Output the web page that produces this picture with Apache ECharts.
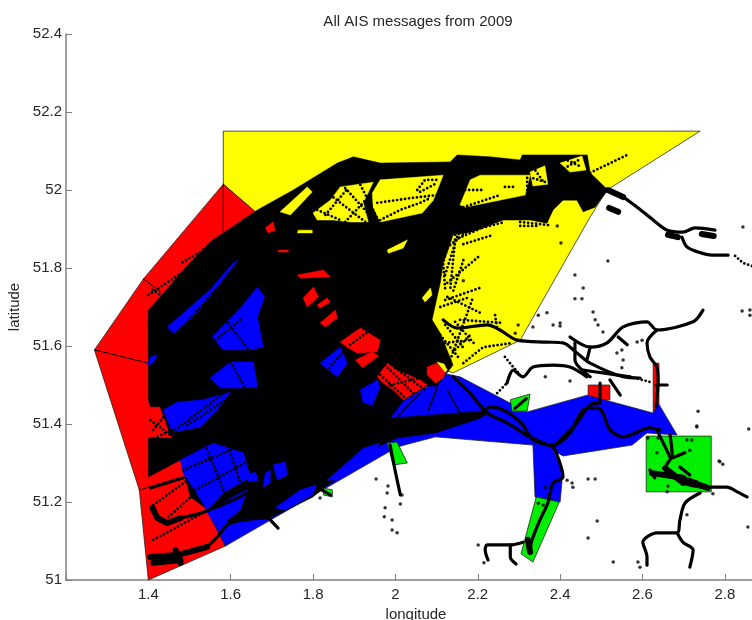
<!DOCTYPE html>
<html><head><meta charset="utf-8">
<style>html,body{margin:0;padding:0;background:#fff;overflow:hidden}#c{width:752px;height:620px;filter:blur(.4px)}</style>
<script src="https://cdn.jsdelivr.net/npm/echarts@6/dist/echarts.min.js"></script>
</head><body><div id="c"></div>
<script>
const yellowZones=[[[1.582,52.151],[2.74,52.151],[2.514,52.0],[2.473,51.931],[2.303,51.615],[2.14,51.531],[2.084,51.556],[1.582,52.015]]];
const redZones=[
[[1.582,52.015],[1.388,51.772],[1.269,51.59],[1.378,51.231],[1.4,51.0],[1.587,51.087],[1.987,51.41],[2.101,51.533],[1.66,51.944]],
[[2.468,51.5],[2.521,51.5],[2.521,51.462],[2.468,51.462]],
[[2.626,51.556],[2.64,51.556],[2.64,51.431],[2.626,51.431]]];
const blueZones=[[[1.4,51.59],[1.429,51.444],[1.458,51.367],[1.478,51.308],[1.587,51.087],[1.98,51.326],[2.004,51.341],[2.097,51.367],[2.334,51.346],[2.339,51.213],[2.4,51.2],[2.407,51.282],[2.383,51.333],[2.407,51.318],[2.575,51.346],[2.611,51.377],[2.684,51.372],[2.638,51.454],[2.626,51.428],[2.466,51.474],[2.32,51.431],[2.157,51.521],[2.101,51.533],[2.077,51.495],[2.019,51.462],[1.97,51.505],[1.915,51.513],[1.866,51.603],[1.769,51.641],[1.696,51.769],[1.623,51.846],[1.502,51.808],[1.4,51.667]]];
const greenZones=[
[[2.609,51.369],[2.767,51.369],[2.767,51.226],[2.609,51.226]],
[[2.342,51.213],[2.398,51.2],[2.334,51.046],[2.305,51.067]],
[[2.279,51.462],[2.327,51.477],[2.32,51.433],[2.283,51.433]],
[[1.98,51.351],[2.004,51.354],[2.029,51.3],[1.995,51.295]],
[[1.825,51.236],[1.847,51.231],[1.847,51.213],[1.825,51.218]]];
const zoneEdges=[
[[1.269,51.59],[1.4,51.556]],
[[1.388,51.772],[1.431,51.738]],
[[1.582,52.015],[1.582,51.892]],
[[1.378,51.231],[1.478,51.262]]];
const denseTraffic=[[1.4,51.692],[1.429,51.726],[1.485,51.795],[1.55,51.867],[1.665,51.949],[1.752,52.0],[1.859,52.069],[1.898,52.085],[1.963,52.069],[2.133,52.072],[2.15,52.09],[2.23,52.085],[2.303,52.077],[2.308,52.09],[2.466,52.09],[2.473,52.044],[2.516,52.0],[2.497,51.974],[2.485,51.956],[2.456,51.944],[2.441,51.974],[2.407,51.974],[2.383,51.949],[2.368,51.915],[2.327,51.923],[2.262,51.923],[2.182,51.892],[2.14,51.885],[2.128,51.846],[2.116,51.813],[2.109,51.762],[2.089,51.667],[2.109,51.633],[2.14,51.551],[2.101,51.497],[2.077,51.497],[2.019,51.459],[1.987,51.415],[2.206,51.433],[2.23,51.431],[2.206,51.415],[2.097,51.377],[2.004,51.364],[1.939,51.333],[1.866,51.262],[1.825,51.236],[1.8,51.213],[1.703,51.162],[1.635,51.159],[1.594,51.149],[1.563,51.154],[1.538,51.185],[1.502,51.213],[1.478,51.308],[1.4,51.264],[1.4,51.364],[1.458,51.364],[1.446,51.392],[1.429,51.444],[1.405,51.444],[1.4,51.462]];
const blueGaps=[
[[1.446,51.649],[1.55,51.744],[1.606,51.813],[1.618,51.821],[1.567,51.751],[1.509,51.674],[1.461,51.633]],
[[1.555,51.623],[1.623,51.697],[1.665,51.751],[1.682,51.726],[1.665,51.674],[1.679,51.597],[1.64,51.59],[1.582,51.59]],
[[1.55,51.518],[1.599,51.559],[1.655,51.559],[1.665,51.495],[1.623,51.492],[1.575,51.492]],
[[1.398,51.551],[1.405,51.572],[1.422,51.577],[1.412,51.556]],
[[1.436,51.436],[1.47,51.456],[1.533,51.462],[1.599,51.482],[1.567,51.436],[1.526,51.392],[1.458,51.379],[1.449,51.403]],
[[1.478,51.308],[1.558,51.351],[1.631,51.326],[1.648,51.264],[1.582,51.223],[1.543,51.179],[1.509,51.236],[1.485,51.274]],
[[1.543,51.174],[1.606,51.213],[1.64,51.231],[1.623,51.179],[1.567,51.133]],
[[1.684,51.274],[1.696,51.282],[1.696,51.249],[1.679,51.238]],
[[1.817,51.556],[1.866,51.597],[1.883,51.556],[1.859,51.521]],
[[1.915,51.487],[1.956,51.513],[1.963,51.495],[1.944,51.449],[1.922,51.454]],
[[1.834,51.256],[1.922,51.338],[1.963,51.351],[1.946,51.326],[1.859,51.256]],
[[1.708,51.185],[1.769,51.231],[1.81,51.244],[1.798,51.218],[1.733,51.179]],
[[1.64,51.269],[1.66,51.277],[1.667,51.256],[1.643,51.251]],
[[1.703,51.295],[1.733,51.303],[1.737,51.269],[1.713,51.256]]];
const redGaps=[
[[1.762,51.782],[1.825,51.795],[1.842,51.777],[1.769,51.774]],
[[1.776,51.723],[1.801,51.751],[1.813,51.726],[1.786,51.7]],
[[1.81,51.705],[1.834,51.723],[1.842,51.713],[1.817,51.697]],
[[1.817,51.659],[1.854,51.692],[1.859,51.672],[1.83,51.649]],
[[1.866,51.61],[1.915,51.646],[1.963,51.615],[1.956,51.585],[1.907,51.582],[1.883,51.597]],
[[1.956,51.521],[1.98,51.556],[2.004,51.538],[2.06,51.513],[2.077,51.5],[2.019,51.462],[1.995,51.487],[1.97,51.505]],
[[1.684,51.903],[1.703,51.918],[1.708,51.897],[1.691,51.89]],
[[1.716,51.846],[1.74,51.846],[1.74,51.841],[1.716,51.841]],
[[2.077,51.546],[2.101,51.556],[2.121,51.533],[2.116,51.518],[2.097,51.505],[2.077,51.526]],
[[1.903,51.564],[1.944,51.585],[1.959,51.574],[1.92,51.544]]];
const yellowGaps=[
[[1.72,51.944],[1.786,52.008],[1.798,51.995],[1.745,51.936]],
[[1.944,51.992],[1.963,52.026],[2.116,52.038],[2.092,51.974],[2.065,51.941],[1.963,51.918],[1.946,51.956]],
[[1.8,51.941],[1.842,51.974],[1.866,52.008],[1.946,52.02],[1.922,51.967],[1.934,51.918],[1.89,51.918],[1.849,51.923],[1.81,51.923]],
[[2.182,52.026],[2.206,52.038],[2.327,52.038],[2.315,51.987],[2.169,51.956],[2.157,51.962]],
[[1.764,51.897],[1.798,51.897],[1.798,51.89],[1.762,51.89]],
[[1.98,51.846],[2.029,51.872],[2.019,51.851],[1.983,51.838]],
[[2.065,51.723],[2.085,51.749],[2.089,51.731],[2.072,51.713]],
[[2.101,51.559],[2.118,51.554],[2.126,51.538],[2.121,51.533]],
[[2.4,52.069],[2.453,52.087],[2.463,52.051],[2.424,52.046]],
[[2.327,52.046],[2.363,52.062],[2.37,52.015],[2.334,52.01]]];
const riverTracks=[
[[2.516,52.0],[2.553,51.982],[2.587,51.956],[2.626,51.923],[2.66,51.897],[2.698,51.892],[2.728,51.903],[2.776,51.897]],
[[2.696,51.879],[2.708,51.854],[2.735,51.841],[2.769,51.833],[2.808,51.833]],
[[2.116,51.667],[2.15,51.646],[2.223,51.654],[2.254,51.641],[2.296,51.615],[2.368,51.61],[2.407,51.608],[2.441,51.582],[2.473,51.556],[2.553,51.521],[2.594,51.518]],
[[2.424,51.623],[2.473,51.597],[2.514,51.608],[2.553,51.649],[2.611,51.662],[2.635,51.641],[2.723,51.662],[2.747,51.692]],
[[2.635,51.641],[2.611,51.608],[2.618,51.572],[2.635,51.546],[2.638,51.513],[2.633,51.444]],
[[2.271,51.505],[2.286,51.538],[2.31,51.521],[2.334,51.546],[2.383,51.551],[2.424,51.546],[2.465,51.521]],
[[2.436,51.608],[2.436,51.564],[2.473,51.521]],
[[2.473,51.597],[2.465,51.564]],
[[2.541,51.623],[2.563,51.603]],
[[2.456,51.538],[2.504,51.531],[2.57,51.521]],
[[2.521,51.513],[2.546,51.474]],
[[2.497,51.505],[2.497,51.454]],
[[2.633,51.5],[2.66,51.5]],
[[1.987,51.41],[2.092,51.415],[2.206,51.428],[2.23,51.444],[2.271,51.431],[2.31,51.397],[2.334,51.359],[2.383,51.346],[2.424,51.377],[2.456,51.436],[2.49,51.441],[2.504,51.428],[2.521,51.385],[2.553,51.367],[2.618,51.39],[2.642,51.385]],
[[2.14,51.521],[2.181,51.479],[2.223,51.428],[2.271,51.403],[2.327,51.367],[2.383,51.341]],
[[2.383,51.341],[2.436,51.397],[2.473,51.449],[2.497,51.454]],
[[2.383,51.346],[2.407,51.264],[2.383,51.249],[2.37,51.197],[2.351,51.154],[2.332,51.103],[2.327,51.077]],
[[2.31,51.097],[2.279,51.09],[2.223,51.09],[2.218,51.077],[2.225,51.051]],
[[2.279,51.09],[2.279,51.059],[2.293,51.041]],
[[2.667,51.372],[2.672,51.321],[2.655,51.287],[2.699,51.249],[2.757,51.236]],
[[2.672,51.313],[2.703,51.326]],
[[2.623,51.274],[2.655,51.269],[2.699,51.262],[2.733,51.251]],
[[2.618,51.282],[2.63,51.262]],
[[2.691,51.29],[2.715,51.269]],
[[2.635,51.385],[2.667,51.315]],
[[2.764,51.238],[2.805,51.238],[2.83,51.226],[2.854,51.213]],
[[2.74,51.223],[2.703,51.197],[2.691,51.154],[2.684,51.121],[2.635,51.121],[2.601,51.097],[2.611,51.059],[2.611,51.038]],
[[2.684,51.121],[2.698,51.097],[2.723,51.077],[2.715,51.033]],
[[1.478,51.159],[1.533,51.174],[1.616,51.21],[1.672,51.244]],
[[1.543,51.085],[1.567,51.11],[1.599,51.146],[1.689,51.159]],
[[1.689,51.162],[1.715,51.133]],
[[1.81,51.238],[1.842,51.218]],
[[1.987,51.346],[1.999,51.282],[2.012,51.218]],
[[1.405,51.236],[1.485,51.262]],
[[2.29,51.44],[2.318,51.465]]];
const heavyTracks=[
[[1.41,51.185],[1.422,51.159],[1.446,51.146],[1.478,51.159]],
[[1.405,51.059],[1.47,51.064],[1.543,51.085]],
[[1.412,51.044],[1.478,51.051]],
[[1.466,51.077],[1.478,51.044]],
[[2.322,51.103],[2.327,51.072]],
[[2.703,51.256],[2.759,51.236]],
[[2.655,51.287],[2.699,51.249]],
[[2.623,51.274],[2.699,51.262]],
[[2.516,52.0],[2.553,51.982]],
[[2.519,51.954],[2.541,51.944]],
[[2.662,51.885],[2.686,51.879]],
[[2.744,51.887],[2.773,51.882]]];
const thinTracks=[
[[2.004,51.418],[2.06,51.479]],
[[2.08,51.436],[2.101,51.492]],
[[2.126,51.487],[2.157,51.428]]];
const dottedTracks=[
[[1.83,51.936],[1.885,52.005]],[[1.878,51.918],[1.939,51.987]],[[1.842,51.987],[1.927,51.918]],[[1.878,52.005],[1.944,51.928]],[[1.915,52.013],[1.958,51.923]],[[1.81,51.949],[1.866,51.923]],
[[1.956,51.967],[2.036,51.979],[2.101,51.987]],[[1.963,51.923],[2.012,51.949],[2.06,51.967],[2.084,51.979]],[[2.053,52.0],[2.072,52.026],[2.101,52.026]],[[2.06,51.995],[2.101,52.018]],
[[2.126,51.762],[2.201,51.828]],[[2.473,52.044],[2.563,52.09]],[[2.121,51.718],[2.211,51.751]],[[2.126,51.726],[2.206,51.685]],[[2.109,51.7],[2.182,51.726]],[[2.157,51.667],[2.262,51.659]],[[2.242,51.679],[2.247,51.646]],[[2.133,51.564],[2.189,51.726]],[[2.165,51.556],[2.213,51.597],[2.286,51.608]],[[2.133,51.879],[2.116,51.813],[2.121,51.744]],[[2.145,51.872],[2.133,51.744]],[[2.121,51.608],[2.182,51.615]],[[2.145,51.59],[2.182,51.628]],[[2.165,51.956],[2.254,51.987]],[[2.15,52.0],[2.218,52.0]],[[2.266,52.008],[2.291,52.008]],[[2.32,52.031],[2.32,52.0]],[[2.121,51.654],[2.169,51.59]],[[2.145,51.662],[2.194,51.603]],[[2.109,51.628],[2.152,51.572]],[[2.145,51.885],[2.266,51.918]],[[2.303,51.918],[2.371,51.91]],[[2.133,51.859],[2.194,51.91]],
[[2.145,51.872],[2.262,51.928]],[[2.165,51.861],[2.238,51.885]],[[2.303,51.908],[2.35,51.908]],[[2.15,51.88],[2.12,51.78]],[[2.165,51.82],[2.14,51.74]],
[[2.335,52.03],[2.365,52.02]],[[2.34,52.05],[2.36,52.02]],[[2.41,52.08],[2.45,52.06]],[[2.41,52.055],[2.45,52.08]],
[[1.485,51.282],[1.64,51.351]],[[1.514,51.231],[1.648,51.308]],[[1.538,51.346],[1.587,51.218]],[[1.594,51.341],[1.623,51.251]],[[1.458,51.379],[1.587,51.482]],[[1.495,51.397],[1.623,51.487]],[[1.587,51.667],[1.648,51.585]],[[1.623,51.667],[1.558,51.61]],[[1.599,51.559],[1.635,51.492]],[[1.466,51.628],[1.563,51.744]],[[1.878,51.59],[1.83,51.533]],
[[1.412,51.385],[1.441,51.423]],[[1.405,51.41],[1.453,51.372]],[[1.405,51.359],[1.458,51.385]],[[1.975,51.551],[2.048,51.474]],[[1.999,51.544],[2.072,51.487]],[[1.963,51.526],[2.024,51.467]],[[1.987,51.5],[2.06,51.518]],[[1.89,51.603],[1.939,51.641]],
[[1.412,51.192],[1.495,51.256]],[[1.449,51.162],[1.514,51.223]],[[1.412,51.103],[1.533,51.172]],[[1.4,51.731],[1.485,51.79]],[[1.41,51.744],[1.441,51.723]],[[1.483,51.815],[1.546,51.854]],[[1.49,51.795],[1.538,51.846]],
[[2.825,51.831],[2.844,51.813],[2.866,51.805]],[[2.247,51.479],[2.271,51.505]],[[2.266,51.572],[2.286,51.546],[2.303,51.526]],[[2.57,51.521],[2.618,51.508]]];
const strayPoints=[[2.844,51.905],[2.516,51.818],[2.436,51.782],[2.456,51.749],[2.436,51.721],[2.453,51.721],[2.48,51.687],[2.485,51.667],[2.492,51.654],[2.504,51.636],[2.383,51.654],[2.4,51.659],[2.4,51.651],[2.402,51.864],[2.393,51.908],[2.538,51.582],[2.55,51.59],[2.553,51.564],[2.55,51.544],[2.587,51.61],[2.599,51.615],[2.364,51.521],[2.424,51.51],[2.842,51.69],[2.861,51.692],[2.861,51.679],[2.735,51.433],[2.732,51.395],[2.858,51.387],[2.788,51.303],[2.795,51.297],[2.856,51.136],[2.708,51.167],[2.771,51.221],[2.66,51.226],[2.49,51.151],[2.468,51.108],[2.529,51.046],[2.468,51.259],[2.485,51.259],[2.417,51.256],[2.429,51.249],[2.431,51.238],[2.364,51.238],[2.347,51.197],[2.359,51.192],[2.016,51.218],[2.012,51.195],[1.992,51.154],[1.992,51.128],[2.004,51.121],[1.953,51.259],[1.982,51.241],[1.98,51.223],[1.975,51.185],[1.973,51.162],[1.817,51.21],[2.613,51.364],[2.638,51.364],[2.635,51.326],[2.708,51.359],[2.72,51.359],[2.715,51.333],[2.662,51.241],[2.732,51.392],[2.786,51.305],[2.201,51.09],[2.215,51.044],[2.589,51.046],[2.594,51.033],[2.165,51.767],[2.298,51.654],[2.291,51.633],[2.334,51.649],[2.347,51.679],[2.368,51.685]];

const latTicks=[51,51.2,51.4,51.6,51.8,52,52.2,52.4];
const lonTicks=[1.4,1.6,1.8,2,2.2,2.4,2.6,2.8];

function zones(name,rings,fill,edge){
  return {type:'custom',name,silent:true,animation:false,clip:false,
    data:rings.map(r=>r[0]),
    encode:{x:0,y:1},
    renderItem:(p,api)=>({type:'polygon',
      shape:{points:rings[p.dataIndex].map(q=>api.coord(q))},
      style:{fill,stroke:edge||fill,lineWidth:edge?1:0.5}})};
}
function tracks(list,width,dash,smooth){
  return list.map(d=>({type:'line',data:d,showSymbol:false,silent:true,animation:false,clip:false,smooth:smooth||false,
    lineStyle:{color:'#000',width,cap:'round',join:'round',type:dash||'solid'}}));
}
const edge='rgba(30,30,30,.75)';
const option={
  animation:false,backgroundColor:'#fff',
  title:{text:'All AIS messages from 2009',left:413,top:9,textAlign:'center',
    textStyle:{fontFamily:'Liberation Sans',fontSize:15,fontWeight:'normal',color:'#262626'}},
  grid:{left:66,top:34,width:700,height:546,outerBoundsMode:'none'},
  xAxis:{type:'value',min:1.2,max:2.9,interval:0.2,name:'longitude',nameLocation:'middle',nameGap:25,
    nameTextStyle:{fontFamily:'Liberation Sans',fontSize:15,color:'#262626'},
    axisLine:{show:true,onZero:false,lineStyle:{color:'#808080',width:1.5}},
    axisTick:{inside:true,length:6,lineStyle:{color:'#808080',width:1}},
    axisLabel:{fontFamily:'Liberation Sans',fontSize:15,color:'#262626',margin:7,
      formatter:v=>{const m=lonTicks.find(t=>Math.abs(t-v)<1e-6);return m===undefined?'':String(m);}},
    splitLine:{show:false}},
  yAxis:{type:'value',min:51,max:52.4,interval:0.2,name:'latitude',nameLocation:'middle',nameGap:41,
    nameTextStyle:{fontFamily:'Liberation Sans',fontSize:15,color:'#262626'},
    axisLine:{show:true,onZero:false,lineStyle:{color:'#808080',width:1.5}},
    axisTick:{inside:true,length:6,lineStyle:{color:'#808080',width:1}},
    axisLabel:{fontFamily:'Liberation Sans',fontSize:15,color:'#262626',margin:4,
      formatter:v=>{const m=latTicks.find(t=>Math.abs(t-v)<1e-6);return m===undefined?'':String(m);}},
    splitLine:{show:false}},
  series:[
    zones('yellow',yellowZones,'#ffff00',edge),
    zones('red',redZones,'#ff0000',edge),
    zones('blue',blueZones,'#0000ff',edge),
    zones('green',greenZones,'#00ee00',edge),
    ...tracks(zoneEdges,1),
    zones('traffic',[denseTraffic],'#000'),
    zones('blue gaps',blueGaps,'#0000ff'),
    zones('red gaps',redGaps,'#ff0000'),
    zones('yellow gaps',yellowGaps,'#ffff00'),
    ...tracks(thinTracks,1.5),
    ...tracks(riverTracks,3.2,null,0.3),
    ...tracks(heavyTracks,6),
    ...tracks(dottedTracks,2.8,[0,4]),
    {type:'scatter',data:strayPoints,symbolSize:3.5,silent:true,animation:false,clip:false,
      itemStyle:{color:'#000'}}
  ]
};
echarts.init(document.getElementById('c'),null,{renderer:'canvas'}).setOption(option);
</script></body></html>
